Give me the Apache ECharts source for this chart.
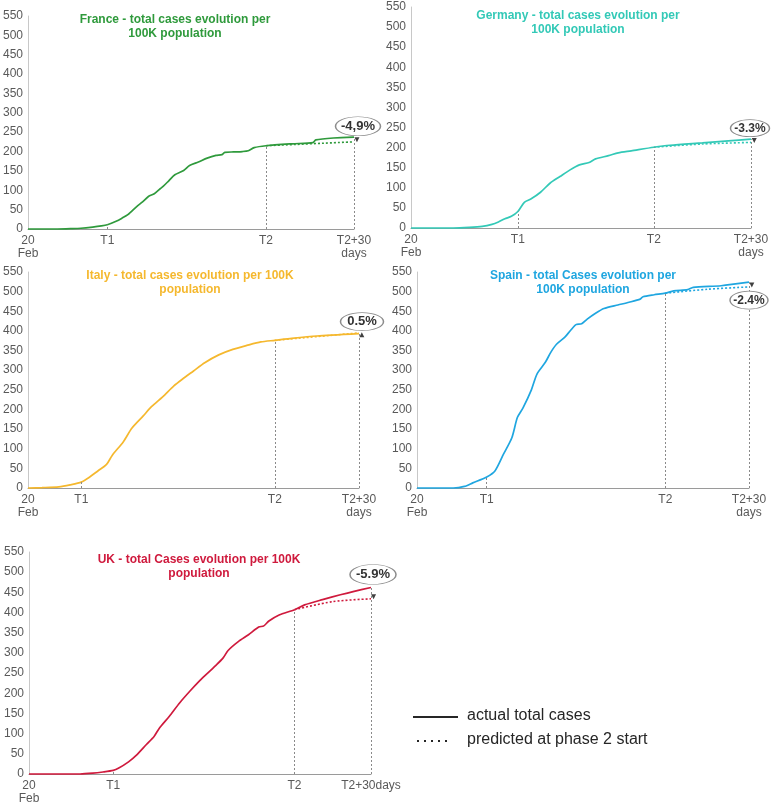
<!DOCTYPE html>
<html>
<head>
<meta charset="utf-8">
<title>Total cases evolution per 100K population</title>
<script src="https://cdn.jsdelivr.net/npm/echarts@6/dist/echarts.min.js"></script>
<style>
  html, body { margin: 0; padding: 0; background: #fff; }
  #main { width: 777px; height: 805px; }
</style>
</head>
<body>
<div id="main"></div>
<script>
// days counted from 20 Feb, values = total cases per 100K population
const countries = ['France', 'Germany', 'Italy', 'Spain', 'UK']
const titles = [
  'France - total cases evolution per\n100K population',
  'Germany - total cases evolution per\n100K population',
  'Italy - total cases evolution per 100K\npopulation',
  'Spain - total Cases evolution per\n100K population',
  'UK - total Cases evolution per 100K\npopulation'
]
const t1Days = [27, 33, 19, 25, 33]
const t2Days = [81, 75, 88, 89, 104]
const endDays = [111, 105, 118, 119, 134]
const gapLabels = ['-4,9%', '-3.3%', '0.5%', '-2.4%', '-5.9%']
const endLabels = ['T2+30\ndays', 'T2+30\ndays', 'T2+30\ndays', 'T2+30\ndays', 'T2+30days']
const yTicks = [0, 550, 50] // min, max, step

const franceActual = [[0, 0], [10, 0], [15, 1], [18, 2], [22, 5], [25, 8], [27, 11], [30, 20], [32, 28], [34, 37], [37, 58], [39, 70], [41, 84], [43, 91], [45, 104], [46, 110], [48, 125], [50, 140], [53, 151], [55, 164], [58, 173], [61, 183], [64, 190], [66, 192], [67, 198], [70, 199], [73, 200], [75, 202], [77, 210], [81, 215], [90, 220], [97, 223], [98, 230], [104, 235], [111, 237]]
const francePredicted = [[81, 215], [111, 225]]

const germanyActual = [[0, 0], [13, 0], [18, 1.5], [22, 4], [25, 9], [27, 15], [29, 23], [31, 29], [33, 41], [35, 64], [37, 72], [40, 89], [43, 112], [46, 128], [49, 144], [52, 157], [55, 163], [57, 172], [61, 180], [64, 187], [68, 192], [75, 201], [80, 206], [90, 212], [98, 217], [105, 221]]
const germanyPredicted = [[75, 201], [90, 209], [105, 213]]

const italyActual = [[0, 0], [5, 1], [11, 3], [15, 8], [19, 15], [22, 28], [25, 44], [28, 60], [30, 83], [34, 118], [37, 152], [41, 183], [44, 207], [48, 232], [52, 260], [55, 277], [59, 298], [63, 319], [68, 339], [73, 353], [78, 363], [83, 372], [88, 376], [94, 381], [103, 387], [118, 393]]
const italyPredicted = [[88, 376], [118, 395]]

const spainActual = [[0, 0], [13, 0], [17, 4], [20, 13], [25, 28], [28, 44], [31, 86], [34, 128], [36, 180], [38, 204], [41, 250], [43, 290], [46, 320], [48, 346], [50, 366], [53, 384], [55, 401], [57, 416], [59, 418], [61, 430], [64, 445], [67, 457], [72, 466], [76, 473], [80, 481], [81, 487], [85, 492], [89, 496], [92, 502], [97, 505], [99, 511], [109, 515], [119, 524]]
const spainPredicted = [[89, 496], [104, 506], [119, 512]]

const ukActual = [[0, 0], [20, 0], [25, 2], [29, 5], [33, 9], [35, 14], [39, 30], [42, 46], [46, 73], [49, 93], [51, 113], [55, 143], [59, 176], [63, 205], [67, 232], [70, 250], [73, 268], [76, 287], [78, 306], [82, 328], [86, 345], [90, 364], [92, 367], [94, 379], [98, 394], [104, 407], [108, 419], [115, 432], [122, 444], [127, 452], [134, 462]]
const ukPredicted = [[104, 407], [119, 427], [134, 434]]

const actualData = [franceActual, germanyActual, italyActual, spainActual, ukActual]
const predictedData = [francePredicted, germanyPredicted, italyPredicted, spainPredicted, ukPredicted]

// layout / style
const colors = ['#2f9a3c', '#33c9b7', '#f5b82e', '#1fa6e0', '#cf1a3d']
const grids = [
  { left: 27, top: 16, width: 327, height: 213 },
  { left: 411, top: 7, width: 340, height: 221 },
  { left: 28, top: 272, width: 331, height: 216 },
  { left: 417, top: 272, width: 332, height: 216 },
  { left: 29, top: 552, width: 342, height: 222 }
]
const titlePos = [[175, 13], [578, 9], [190, 269], [583, 269], [199, 553]]
const bubble = [
  { size: [45, 19], offset: [4, -11], font: 13 },
  { size: [39, 17], offset: [-1, -11], font: 12 },
  { size: [43, 18], offset: [3, -12], font: 13 },
  { size: [38, 18], offset: [0, 18], font: 12 },
  { size: [46, 20], offset: [2, -13], font: 13 }
]
const FONT = 'Liberation Sans, Arial, sans-serif'
const AXIS_GREY = '#595959'

function valueAt (arr, day) {
  const p = arr.find(item => item[0] === day)
  return p ? p[1] : 0
}

function buildOption () {
  const option = {
    animation: false,
    backgroundColor: '#fff',
    grid: [],
    xAxis: [],
    yAxis: [],
    series: [],
    graphic: []
  }

  countries.forEach((name, i) => {
    const actual = actualData[i]
    const predicted = predictedData[i]
    const t1 = t1Days[i]
    const t2 = t2Days[i]
    const end = endDays[i]
    const actualEnd = valueAt(actual, end)
    const predEnd = predicted[predicted.length - 1][1]
    const tickLabels = { 0: '20\nFeb' }
    tickLabels[t1] = 'T1'
    tickLabels[t2] = 'T2'
    tickLabels[end] = endLabels[i]

    option.grid.push(Object.assign({ containLabel: false }, grids[i]))

    option.xAxis.push({
      type: 'value',
      gridIndex: i,
      min: 0,
      max: end,
      splitLine: { show: false },
      axisLine: { lineStyle: { color: '#9a9a9a', width: 1 } },
      axisTick: { show: false },
      axisLabel: {
        customValues: [0, t1, t2, end],
        formatter: v => tickLabels[v] || '',
        color: AXIS_GREY,
        fontFamily: FONT,
        fontSize: 12,
        lineHeight: 13,
        margin: 5
      }
    })

    option.yAxis.push({
      type: 'value',
      gridIndex: i,
      min: yTicks[0],
      max: yTicks[1],
      interval: yTicks[2],
      splitLine: { show: false },
      axisLine: { show: true, lineStyle: { color: '#c8c8c8', width: 1 } },
      axisTick: { show: false },
      axisLabel: { color: AXIS_GREY, fontFamily: FONT, fontSize: 12, margin: 5 }
    })

    // actual curve + guide lines + gap bubble
    option.series.push({
      name: name + ' actual',
      type: 'line',
      xAxisIndex: i,
      yAxisIndex: i,
      data: actual,
      showSymbol: false,
      smooth: 0.25,
      clip: false,
      z: 3,
      lineStyle: { color: colors[i], width: 1.7 },
      markLine: {
        silent: true,
        symbol: 'none',
        label: { show: false },
        lineStyle: { color: '#8a8a8a', type: [2, 2], width: 1 },
        data: [
          [{ coord: [t1, 0] }, { coord: [t1, valueAt(actual, t1)] }],
          [{ coord: [t2, 0] }, { coord: [t2, valueAt(actual, t2)] }],
          [{ coord: [end, 0] }, { coord: [end, Math.max(actualEnd, predEnd)] }]
        ]
      },
      markPoint: {
        silent: true,
        data: [{
          coord: [end, actualEnd],
          symbol: 'circle',
          symbolSize: bubble[i].size,
          symbolOffset: bubble[i].offset,
          itemStyle: { color: '#fff', borderColor: '#8c8c8c', borderWidth: 1 },
          label: {
            show: true,
            position: 'inside',
            formatter: gapLabels[i],
            color: '#333',
            fontWeight: 'bold',
            fontFamily: FONT,
            fontSize: bubble[i].font
          }
        }]
      }
    })

    // small arrow from the actual end to the predicted end
    const down = predEnd < actualEnd
    option.series.push({
      name: name + ' gap',
      type: 'line',
      xAxisIndex: i,
      yAxisIndex: i,
      clip: false,
      silent: true,
      z: 4,
      lineStyle: { color: '#404040', width: 1 },
      itemStyle: { color: '#404040' },
      data: [
        { value: [end + 1, actualEnd], symbol: 'none' },
        { value: [end + 1, predEnd], symbol: 'triangle', symbolSize: [5, 5], symbolRotate: down ? 180 : 0, symbolOffset: [0, down ? -2 : 2] }
      ]
    })

    option.series.push({
      name: name + ' predicted',
      type: 'line',
      xAxisIndex: i,
      yAxisIndex: i,
      data: predicted,
      showSymbol: false,
      smooth: 0.3,
      z: 2,
      lineStyle: { color: colors[i], width: 1.6, type: [2, 2] }
    })

    option.graphic.push({
      type: 'text',
      x: titlePos[i][0],
      y: titlePos[i][1],
      style: {
        text: titles[i],
        fill: colors[i],
        font: 'bold 12px ' + FONT,
        lineHeight: 14,
        align: 'center'
      }
    })
  })

  // legend
  option.graphic.push(
    { type: 'line', shape: { x1: 413, y1: 717, x2: 458, y2: 717 }, style: { stroke: '#262626', lineWidth: 2 } },
    { type: 'text', x: 467, y: 708, style: { text: 'actual total cases', fill: '#262626', font: '16px ' + FONT } },
    { type: 'line', shape: { x1: 417, y1: 741, x2: 449, y2: 741 }, style: { stroke: '#262626', lineWidth: 2, lineDash: [2, 5] } },
    { type: 'text', x: 467, y: 732, style: { text: 'predicted at phase 2 start', fill: '#262626', font: '16px ' + FONT } }
  )
  return option
}

const chart = echarts.init(document.getElementById('main'), null, { renderer: 'canvas' })
chart.setOption(buildOption())
</script>
</body>
</html>
